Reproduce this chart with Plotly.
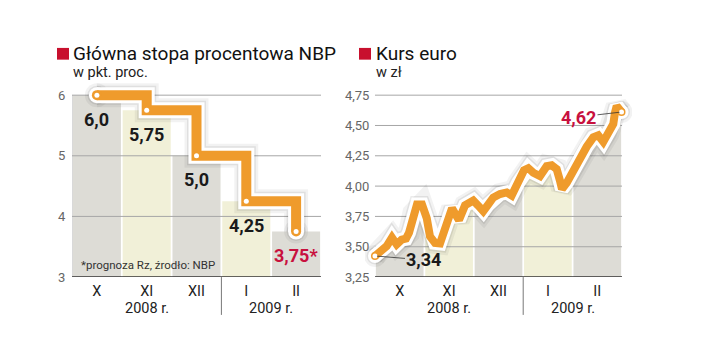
import plotly.graph_objects as go

# ---------------- data ----------------
month_labels = ["X", "XI", "XII", "I", "II"]
year_labels = ["2008 r.", "2009 r."]

# left: NBP reference rate (pkt. proc.)
rate_values = [6.0, 5.75, 5.0, 4.25, 3.75]
rate_texts = ["6,0", "5,75", "5,0", "4,25", "3,75*"]
rate_ticks = [3, 4, 5, 6]
rate_ticktext = ["3", "4", "5", "6"]

# right: EUR/PLN, position in months since 1 Oct 2008
euro_t = [0.000, 0.101, 0.237, 0.344, 0.439, 0.540, 0.628, 0.688, 0.775, 0.850,
          0.951, 1.047, 1.113, 1.215, 1.316, 1.383, 1.484, 1.559, 1.640, 1.700,
          1.822, 1.903, 1.990, 2.085, 2.192, 2.294, 2.395, 2.530, 2.666, 2.767,
          2.901, 3.016, 3.103, 3.204, 3.340, 3.476, 3.577, 3.678, 3.745, 3.785,
          3.881, 4.014, 4.150, 4.285, 4.419, 4.520, 4.621, 4.723, 4.824, 4.858,
          4.893, 4.990]
euro_values = [3.424, 3.454, 3.505, 3.575, 3.519, 3.559, 3.567, 3.615, 3.774, 3.849,
               3.849, 3.736, 3.585, 3.532, 3.527, 3.599, 3.734, 3.817, 3.760, 3.720,
               3.841, 3.865, 3.881, 3.841, 3.793, 3.849, 3.906, 3.935, 3.948, 3.922,
               4.029, 4.131, 4.148, 4.110, 4.083, 4.164, 4.172, 4.140, 4.043, 3.976,
               4.027, 4.137, 4.244, 4.325, 4.402, 4.419, 4.365, 4.432, 4.513, 4.607,
               4.661, 4.611]
euro_first_text = "3,34"
euro_last_text = "4,62"
euro_ticks = [3.25, 3.50, 3.75, 4.00, 4.25, 4.50, 4.75]
euro_ticktext = ["3,25", "3,50", "3,75", "4,00", "4,25", "4,50", "4,75"]

# ---------------- style ----------------
W, H = 720, 363
GREY = "#dddcd6"
YELLOW = "#f1f0d8"
ORANGE = "#ef9b2c"
CRIMSON = "#c8103e"
RED_SQ = "#c8102e"
GRID = "#a6a6a6"
FONT = "Roboto"
col_colors = [GREY, YELLOW, GREY, YELLOW, GREY]


def fx(p):
    return p / W


def fy(p):
    return 1 - p / H


y_dom = [fy(283.3), fy(84.9)]
left_xr = [-0.5, 4.5]
left_yr = [3, 6.2]
right_xr = [-0.2, 5.2]
right_yr = [3.25, 4.85]
n = len(month_labels)

fig = go.Figure()

# ---------- left chart ----------
fig.add_trace(go.Bar(x=list(range(n)), y=rate_values, marker=dict(color=col_colors, line=dict(width=0)),
                     width=0.965, xaxis="x", yaxis="y", hoverinfo="skip", showlegend=False))
fig.add_trace(go.Scatter(x=[left_xr[0], left_xr[0]], y=[rate_ticks[0], rate_ticks[-1]], mode="lines",
                         line=dict(color="#b8b8b8", width=1), xaxis="x", yaxis="y",
                         hoverinfo="skip", showlegend=False))
for t in rate_ticks[1:]:
    fig.add_trace(go.Scatter(x=left_xr, y=[t, t], mode="lines", line=dict(color=GRID, width=1),
                             xaxis="x", yaxis="y", hoverinfo="skip", showlegend=False))
for w, c in [(24, "rgba(0,0,0,0.05)"), (19, "rgba(0,0,0,0.08)"), (16, "white"), (10, ORANGE)]:
    fig.add_trace(go.Scatter(x=list(range(n)), y=rate_values, mode="lines", line=dict(color=c, width=w, shape="hv"),
                             xaxis="x", yaxis="y", hoverinfo="skip", showlegend=False))
    fig.add_trace(go.Scatter(x=[0, n - 1], y=[rate_values[0], rate_values[-1]], mode="markers",
                             marker=dict(color=c, size=w, line=dict(width=0)),
                             xaxis="x", yaxis="y", hoverinfo="skip", showlegend=False))
fig.add_trace(go.Scatter(x=list(range(n)), y=rate_values, mode="markers",
                         marker=dict(color="white", size=5, line=dict(width=0)),
                         xaxis="x", yaxis="y", hoverinfo="skip", showlegend=False))

# ---------- right chart ----------
fig.add_trace(go.Bar(x=[i + 0.5 for i in range(n)], y=[right_yr[1]] * n,
                     marker=dict(color=col_colors, line=dict(width=0)), width=0.965,
                     xaxis="x2", yaxis="y2", hoverinfo="skip", showlegend=False))
fig.add_trace(go.Scatter(x=[0, n], y=[right_yr[1], right_yr[1]], mode="lines", line=dict(width=0),
                         xaxis="x2", yaxis="y2", hoverinfo="skip", showlegend=False))
fig.add_trace(go.Scatter(x=euro_t, y=euro_values, mode="lines", line=dict(width=0, color="white"),
                         fill="tonexty", fillcolor="white",
                         xaxis="x2", yaxis="y2", hoverinfo="skip", showlegend=False))
for t in euro_ticks[1:]:
    fig.add_trace(go.Scatter(x=[0, n], y=[t, t], mode="lines", line=dict(color=GRID, width=1),
                             xaxis="x2", yaxis="y2", hoverinfo="skip", showlegend=False))
for w, c in [(22, "rgba(0,0,0,0.05)"), (17, "rgba(0,0,0,0.08)"), (14, "white"), (8, ORANGE)]:
    fig.add_trace(go.Scatter(x=euro_t, y=euro_values, mode="lines", line=dict(color=c, width=w),
                             xaxis="x2", yaxis="y2", hoverinfo="skip", showlegend=False))
    fig.add_trace(go.Scatter(x=[euro_t[0], euro_t[-1]], y=[euro_values[0], euro_values[-1]], mode="markers",
                             marker=dict(color=c, size=w, line=dict(width=0)),
                             xaxis="x2", yaxis="y2", hoverinfo="skip", showlegend=False))
fig.add_trace(go.Scatter(x=[euro_t[0], euro_t[-1]], y=[euro_values[0], euro_values[-1]], mode="markers",
                         marker=dict(color="white", size=5, line=dict(width=0)),
                         xaxis="x2", yaxis="y2", hoverinfo="skip", showlegend=False))

annotations = []
shapes = []

for i, (v, t) in enumerate(zip(rate_values, rate_texts)):
    annotations.append(dict(x=i, y=v, xref="x", yref="y", text=f"<b>{t}</b>", showarrow=False,
                            yshift=-24, font=dict(family=FONT, size=18,
                                                  color=CRIMSON if i == n - 1 else "#1a1a1a")))
annotations.append(dict(x=fx(79), y=fy(271), xref="paper", yref="paper", xanchor="left", yanchor="middle",
                        text="*prognoza Rz, źrodło: NBP", showarrow=False,
                        font=dict(family=FONT, size=11.5, color="#333")))

annotations.append(dict(x=euro_t[0], y=euro_values[0], xref="x2", yref="y2", text=f"<b>{euro_first_text}</b>",
                        showarrow=True, arrowhead=0, arrowwidth=0.8, arrowcolor="#333", ax=49, ay=4, standoff=2,
                        font=dict(family=FONT, size=18, color="#1a1a1a")))
annotations.append(dict(x=euro_t[-1], y=euro_values[-1], xref="x2", yref="y2", text=f"<b>{euro_last_text}</b>",
                        showarrow=True, arrowhead=0, arrowwidth=0.8, arrowcolor="#333", ax=-43, ay=5, standoff=2,
                        font=dict(family=FONT, size=18, color=CRIMSON)))

for sq_x0, tx, title, sub in [(57, 72, "Główna stopa procentowa NBP", "w pkt. proc."),
                             (359, 375, "Kurs euro", "w zł")]:
    shapes.append(dict(type="rect", xref="paper", yref="paper", x0=fx(sq_x0), x1=fx(sq_x0 + 12),
                       y0=fy(61), y1=fy(49), fillcolor=RED_SQ, line=dict(width=0)))
    annotations.append(dict(x=fx(tx - 1), y=fy(55), xref="paper", yref="paper", xanchor="left", yanchor="middle",
                            text=title, showarrow=False, font=dict(family=FONT, size=19, color="#111")))
    annotations.append(dict(x=fx(tx - 1), y=fy(74), xref="paper", yref="paper", xanchor="left", yanchor="middle",
                            text=sub, showarrow=False, font=dict(family=FONT, size=14.5, color="#222")))

for xa, ya, x0, x1, sep, y0, yr_pos in [("x", "y", left_xr[0], left_xr[1], 2.5, left_yr[0], [1, 3.5]),
                                        ("x2", "y2", 0, n, 3, right_yr[0], [1.5, 4.0])]:
    shapes.append(dict(type="line", xref=xa, yref=ya, x0=x0, x1=x1, y0=y0, y1=y0,
                       line=dict(color="#333", width=1.5)))
    shapes.append(dict(type="line", xref=xa, yref="paper", x0=sep, x1=sep, y0=fy(283.3), y1=fy(322),
                       line=dict(color="#777", width=1)))
    for p, lab in zip(yr_pos, year_labels):
        annotations.append(dict(x=p, y=fy(315), xref=xa, yref="paper", text=lab, showarrow=False,
                                yanchor="middle", font=dict(family=FONT, size=14.5, color="#222")))

axis_common = dict(showgrid=False, zeroline=False, showline=False, fixedrange=True)
fig.update_layout(
    width=W, height=H, autosize=False, margin=dict(l=0, r=0, t=0, b=0),
    paper_bgcolor="white", plot_bgcolor="rgba(0,0,0,0)",
    barmode="overlay", showlegend=False,
    font=dict(family=FONT),
    xaxis=dict(domain=[fx(72), fx(321)], range=left_xr, tickvals=list(range(n)), ticktext=month_labels,
               ticks="outside", ticklen=1, tickcolor="rgba(0,0,0,0)", anchor="y",
               tickfont=dict(family=FONT, size=14.5, color="#222"), **axis_common),
    yaxis=dict(domain=y_dom, range=left_yr, tickvals=rate_ticks, ticktext=rate_ticktext, anchor="x",
               ticks="outside", ticklen=3, tickcolor="rgba(0,0,0,0)",
               tickfont=dict(family=FONT, size=13, color="#666"), **axis_common),
    xaxis2=dict(domain=[fx(375 - 0.2 * 49.4), fx(622 + 0.2 * 49.4)], range=right_xr,
                tickvals=[i + 0.5 for i in range(n)], ticktext=month_labels,
                ticks="outside", ticklen=1, tickcolor="rgba(0,0,0,0)", anchor="y2",
                tickfont=dict(family=FONT, size=14.5, color="#222"), **axis_common),
    yaxis2=dict(domain=y_dom, range=right_yr, tickvals=euro_ticks, ticktext=euro_ticktext,
                anchor="free", position=fx(375), ticks="outside", ticklen=3, tickcolor="rgba(0,0,0,0)",
                tickfont=dict(family=FONT, size=13, color="#666"), **axis_common),
    annotations=annotations, shapes=shapes,
)

fig.write_html("out.html", config={"displayModeBar": False, "responsive": False},
               post_script="document.body.style.margin='0';document.body.style.padding='0';")
